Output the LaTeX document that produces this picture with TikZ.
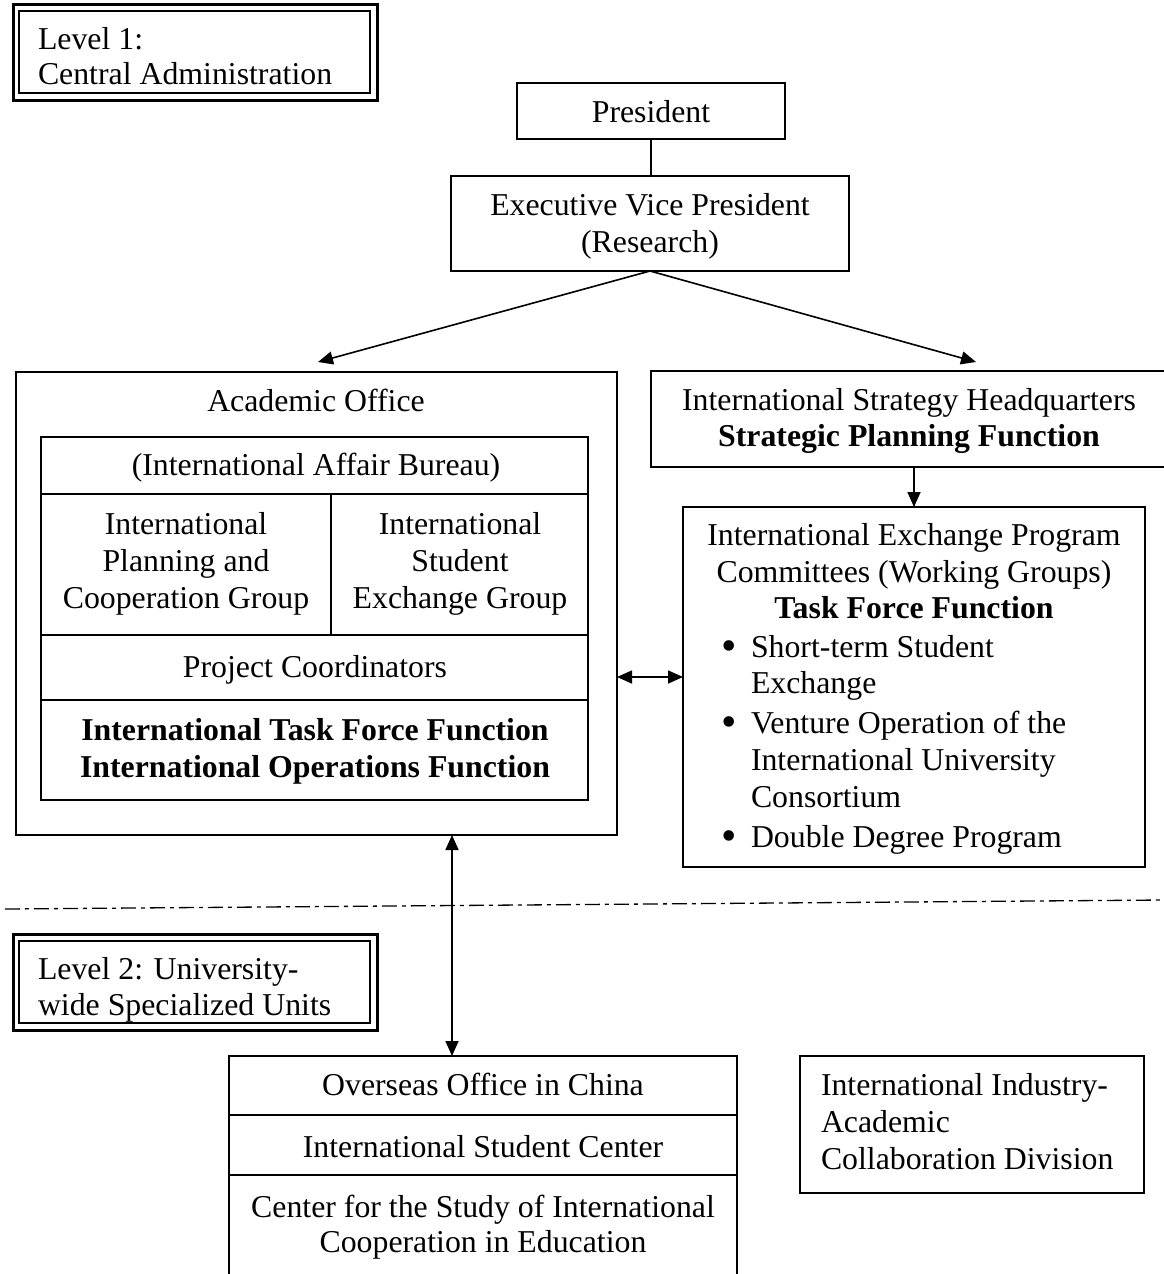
\documentclass[tikz,border=0pt]{standalone}
\usepackage{fontspec}
\setmainfont{Liberation Serif}
\usetikzlibrary{arrows.meta}
\newcommand\boxat[6][]{\node[rect,#1,anchor=north west,minimum width={#5-#3},minimum height={#6-#4}] (#2) at (#3,#4) {};}
\newcommand\lineat[5][base]{\node[txt,anchor=#1] (#2) at (#3,#4) {#5};}
\begin{document}
\begin{tikzpicture}[x=1pt,y=-1pt,line width=1.6pt,
  rect/.style={draw,inner sep=0pt,outer sep=0pt},
  txt/.style={inner sep=0pt,outer sep=0pt,font=\fontsize{31.8}{37}\selectfont},
  bul/.style={inner sep=0pt,outer sep=0pt,font=\fontsize{44}{44}\selectfont},
  arr/.style={-{Triangle[length=15pt,width=13pt]}},
  darr/.style={{Triangle[length=15pt,width=13pt]}-{Triangle[length=15pt,width=13pt]}},
  thickline/.style={line width=3pt},
  thinline/.style={line width=1.4pt},
  dashdot/.style={line width=1.3pt,dash pattern=on 15pt off 5pt on 4pt off 5pt}]
\useasboundingbox (0,0) rectangle (1164,1274);
\clip (0,0) rectangle (1164,1274);

% Level 1
\boxat[thickline]{lv1o}{13}{4}{377}{100}
\boxat[thinline]{lv1i}{19}{11}{370}{93}
\lineat[base west]{lv1a}{38}{49}{Level 1:}
\lineat[base west]{lv1b}{38}{84}{Central Administration}

% President / EVP
\boxat{pres}{517}{83}{785}{139}
\lineat{presT}{651}{122}{President}
\boxat{evp}{451}{176}{849}{271}
\lineat{evpA}{650}{215}{Executive Vice President}
\lineat{evpB}{650}{252}{(Research)}
\draw (pres.south) -- (pres.south |- evp.north);
\coordinate (tipL) at (318,362);
\coordinate (tipR) at (976,362);
\draw[arr] (evp.south) -- (tipL);
\draw[arr] (evp.south) -- (tipR);

% Academic Office
\boxat{ao}{16}{372}{617}{835}
\lineat{aoT}{316}{411}{Academic Office}
\boxat{aib}{41}{437}{588}{494}
\boxat{ipc}{41}{494}{331}{635}
\boxat{ise}{331}{494}{588}{635}
\boxat{pc}{41}{635}{588}{700}
\boxat{fn}{41}{700}{588}{800}
\lineat{aibT}{316}{475}{(International Affair Bureau)}
\lineat{ipcA}{186}{534}{International}
\lineat{ipcB}{186}{571}{Planning and}
\lineat{ipcC}{186}{608}{Cooperation Group}
\lineat{iseA}{460}{534}{International}
\lineat{iseB}{460}{571}{Student}
\lineat{iseC}{460}{608}{Exchange Group}
\lineat{pcT}{315}{677}{Project Coordinators}
\lineat{fnA}{315}{740}{\bfseries International Task Force Function}
\lineat{fnB}{315}{777}{\bfseries International Operations Function}

% International Strategy Headquarters
\boxat{ish}{651}{371}{1170}{467}
\lineat{ishA}{909}{410}{International Strategy Headquarters}
\lineat{ishB}{909}{446}{\bfseries Strategic Planning Function}

% International Exchange Program Committees
\boxat{iep}{683}{507}{1145}{867}
\lineat{iepA}{914}{545}{International Exchange Program}
\lineat{iepB}{914}{582}{Committees (Working Groups)}
\lineat{iepC}{914}{618}{\bfseries Task Force Function}
\node[bul,anchor=base] (bu1) at (729,660) {•};
\lineat[base west]{it1a}{751}{657}{Short-term Student}
\lineat[base west]{it1b}{751}{693}{Exchange}
\node[bul,anchor=base] (bu2) at (729,736) {•};
\lineat[base west]{it2a}{751}{733}{Venture Operation of the}
\lineat[base west]{it2b}{751}{770}{International University}
\lineat[base west]{it2c}{751}{807}{Consortium}
\node[bul,anchor=base] (bu3) at (729,850) {•};
\lineat[base west]{it3a}{751}{847}{Double Degree Program}
\draw[arr] (iep.north |- ish.south) -- (iep.north);
\coordinate (midy) at (650,677);
\draw[darr] (ao.east |- midy) -- (iep.west |- midy);

% divider
\coordinate (dl) at (5,909);
\coordinate (dr) at (1164,900);
\draw[dashdot] (dl) -- (dr);

% Level 2
\boxat[thickline]{lv2o}{13}{934}{377}{1030}
\boxat[thinline]{lv2i}{19}{941}{370}{1023}
\lineat[base west]{lv2a}{38}{979}{Level 2: University-}
\lineat[base west]{lv2b}{38}{1015}{wide Specialized Units}

% Bottom table
\boxat{ooc}{229}{1056}{737}{1115}
\boxat{isc}{229}{1115}{737}{1175}
\draw (isc.south west) -- ++(0,120);
\draw (isc.south east) -- ++(0,120);
\lineat{oocT}{483}{1095}{Overseas Office in China}
\lineat{iscT}{483}{1157}{International Student Center}
\lineat{csA}{483}{1217}{Center for the Study of International}
\lineat{csB}{483}{1252}{Cooperation in Education}
\coordinate (vx) at (452,0);
\draw[darr] (ao.south -| vx) -- (ooc.north -| vx);

% Industry-Academic box
\boxat{iia}{800}{1056}{1144}{1193}
\lineat[base west]{iiaA}{821}{1095}{International Industry-}
\lineat[base west]{iiaB}{821}{1132}{Academic}
\lineat[base west]{iiaC}{821}{1169}{Collaboration Division}
\end{tikzpicture}
\end{document}
